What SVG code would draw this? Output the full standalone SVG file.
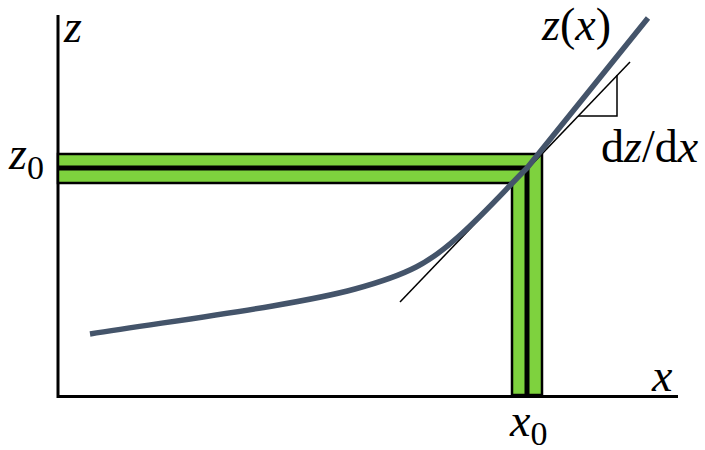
<svg xmlns="http://www.w3.org/2000/svg" width="705" height="450" viewBox="0 0 705 450">
<style>
.ax{stroke:#000;stroke-width:3;fill:none}
.band{fill:#7ED23E;stroke:#000;stroke-width:2.5}
.mid{stroke:#000;stroke-width:5;fill:none}
.thin{stroke:#000;stroke-width:1.5;fill:none}
.curve{stroke:#44546A;stroke-width:5.5;fill:none;stroke-linejoin:round}
text{font-family:"Liberation Serif","Times New Roman",serif;font-size:46px;fill:#000}
.i{font-style:italic}
.sub{font-size:34px}
</style>
<rect width="705" height="450" fill="#fff"/>
<g id="axes">
<path class="ax" d="M58,15 V396.5 H678"/>
</g>
<g id="band">
<path class="band" d="M58,154 H542 V395 H512 V183 H58 Z"/>
<path class="mid" d="M58,168 H527 V395"/>
</g>
<g id="connectors">
<path class="thin" d="M400,302 L630,62"/>
<path class="thin" d="M578,116 H617 V75"/>
</g>
<g id="curve">
<path class="curve" d="M90,334 C200,317 300,304 355,289 S430,262 458,237 S505,190 527,168 L648,18"/>
</g>
<g id="labels">
<text class="i" x="64" y="42">z</text>
<text x="9" y="169"><tspan class="i">z</tspan><tspan class="sub" dy="10">0</tspan></text>
<text x="542" y="40"><tspan class="i">z</tspan>(<tspan class="i">x</tspan>)</text>
<text x="601" y="162">d<tspan class="i">z</tspan>/d<tspan class="i">x</tspan></text>
<text class="i" x="652" y="391">x</text>
<text x="510" y="436"><tspan class="i">x</tspan><tspan class="sub" dy="9">0</tspan></text>
</g>
</svg>
